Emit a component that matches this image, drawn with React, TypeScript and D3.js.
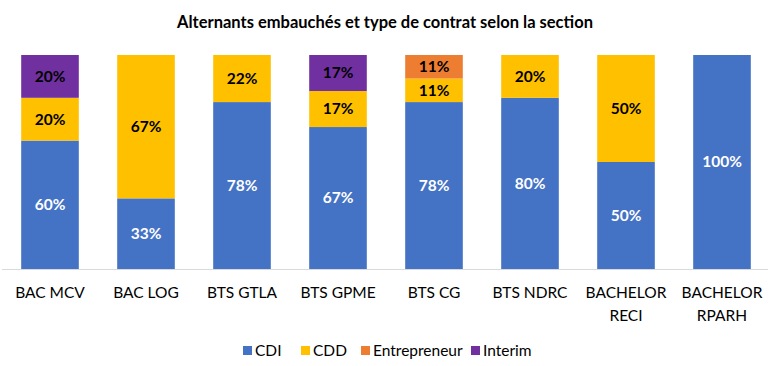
import React from "react";
import * as d3 from "d3";

const categories = ["BAC MCV", "BAC LOG", "BTS GTLA", "BTS GPME", "BTS CG", "BTS NDRC", "BACHELOR RECI", "BACHELOR RPARH"];
const seriesNames = ["CDI", "CDD", "Entrepreneur", "Interim"];
const cdi = [60, 33, 78, 67, 78, 80, 50, 100];
const cdd = [20, 67, 22, 17, 11, 20, 50, 0];
const entrepreneur = [0, 0, 0, 0, 11, 0, 0, 0];
const interim = [20, 0, 0, 17, 0, 0, 0, 0];
const colors = ["#4472C4", "#FFC000", "#ED7D31", "#7030A0"];
const labelColors = ["#FFFFFF", "#000000", "#000000", "#000000"];
const title = "Alternants embauchés et type de contrat selon la section";

const W = 770, H = 366;
const font = "Lato, 'Open Sans', sans-serif";

export default function App() {
  const series = [cdi, cdd, entrepreneur, interim];
  const rows = categories.map((c, i) => {
    const o: any = { cat: c };
    seriesNames.forEach((s, k) => (o[s] = series[k][i]));
    return o;
  });
  const stacked = d3.stack().keys(seriesNames).offset(d3.stackOffsetExpand)(rows);
  const x = d3.scaleBand().domain(categories).range([2, 770]).paddingInner(0.4).paddingOuter(0.2);
  const y = d3.scaleLinear().domain([0, 1]).range([269, 55]);

  return (
    <svg width={W} height={H} style={{ display: "block", position: "absolute", left: 0, top: 0, background: "#fff" }} fontFamily={font}>
      <text x={385} y={28} textAnchor="middle" fontSize={16.5} fontWeight="bold" fill="#000">{title}</text>
      {stacked.map((layer, k) => (
        <g key={layer.key}>
          {layer.map((d, i) => {
            const v = series[k][i];
            if (!v) return null;
            const y0 = y(d[0]), y1 = y(d[1]);
            const xx = x(categories[i])!;
            return (
              <g key={i}>
                <rect x={xx} y={y1} width={x.bandwidth()} height={y0 - y1} fill={colors[k]} />
                <text x={xx + x.bandwidth() / 2} y={(y0 + y1) / 2} dy="0.35em" textAnchor="middle"
                  fontSize={15.5} fontWeight="bold" fill={labelColors[k]}>{v}%</text>
              </g>
            );
          })}
        </g>
      ))}
      <line x1={2} x2={768} y1={269.5} y2={269.5} stroke="#D9D9D9" strokeWidth={1} />
      {categories.map((c) => {
        const cx = x(c)! + x.bandwidth() / 2;
        const parts = c.startsWith("BACHELOR") ? ["BACHELOR", c.split(" ")[1]] : [c];
        return (
          <text key={c} x={cx} y={298} textAnchor="middle" fontSize={15.5} fill="#000">
            {parts.map((p, j) => (
              <tspan key={j} x={cx} dy={j === 0 ? 0 : 23}>{p}</tspan>
            ))}
          </text>
        );
      })}
      {(() => {
        const starts = [243, 301, 361, 471];
        return seriesNames.map((s, k) => (
          <g key={s}>
            <rect x={starts[k]} y={346} width={9} height={9} fill={colors[k]} />
            <text x={starts[k] + 12} y={356} fontSize={15.5} fill="#000">{s}</text>
          </g>
        ));
      })()}
    </svg>
  );
}
